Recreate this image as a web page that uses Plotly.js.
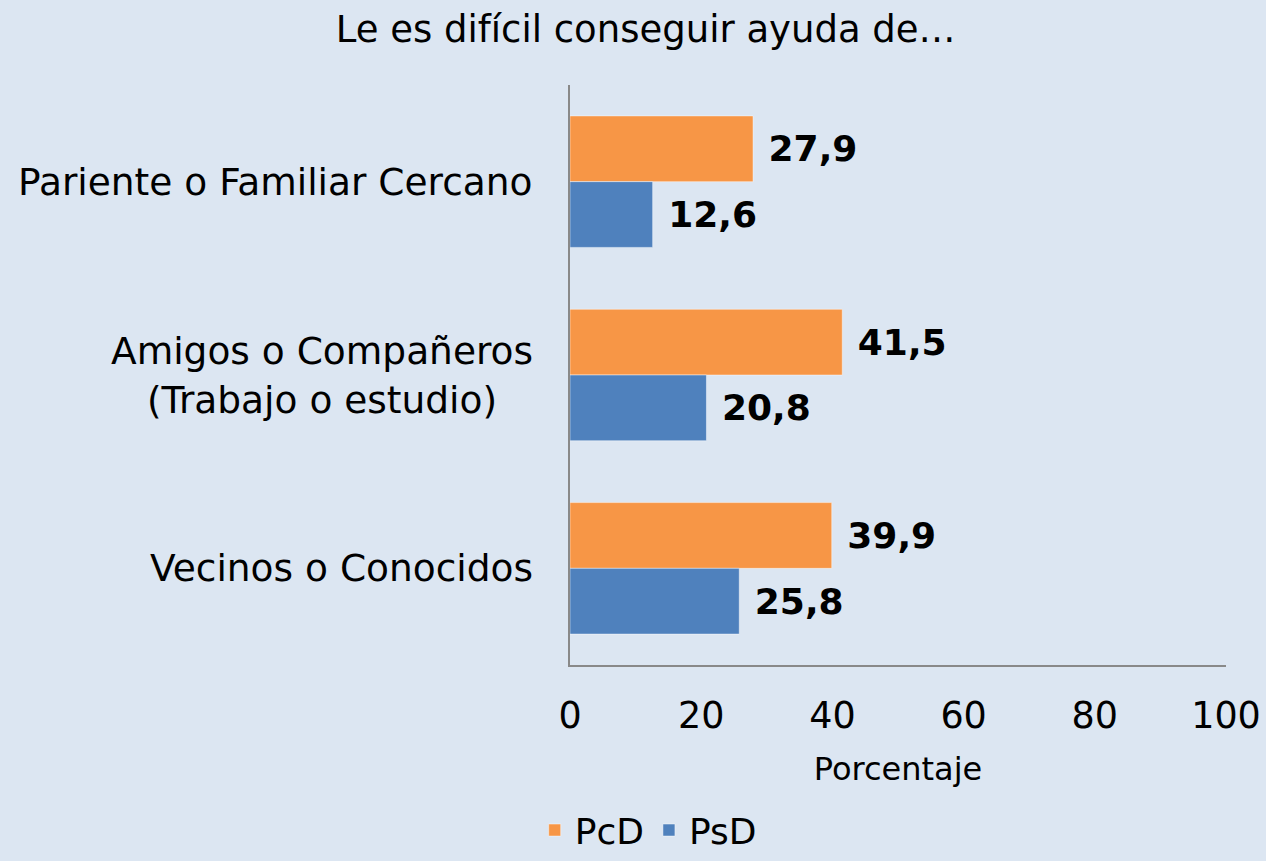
<!DOCTYPE html>
<html>
<head>
<meta charset="utf-8">
<script src="https://cdn.plot.ly/plotly-3.0.1.min.js"></script>
<style>
html,body{margin:0;padding:0;background:#DCE6F2;}
#chart{width:1266px;height:861px;}
</style>
</head>
<body>
<div id="chart"></div>
<script>
const categories = ["Pariente o Familiar Cercano", "Amigos o Compañeros<br>(Trabajo o estudio)", "Vecinos o Conocidos"];
const seriesNames = ["PcD", "PsD"];
const pcdValues = [27.9, 41.5, 39.9];
const psdValues = [12.6, 20.8, 25.8];
const xTickValues = [0, 20, 40, 60, 80, 100];
const titleText = "Le es difícil conseguir ayuda de…";
const xAxisTitle = "Porcentaje";

const FONT = "DejaVu Sans, Verdana, sans-serif";
const colors = ["#F79646", "#4F81BD"];

function barTrace(name, values, color) {
  return {
    type: "bar",
    orientation: "h",
    name: name,
    x: values,
    y: categories,
    marker: {color: color, line: {color: "rgba(255,255,255,0.45)", width: 1}},
    texttemplate: "\u00a0%{x:.1f}",
    textposition: "outside",
    constraintext: "none",
    cliponaxis: false,
    textfont: {family: FONT, size: 36, color: "#000000", weight: "bold"},
    hoverinfo: "skip"
  };
}

const data = [
  barTrace(seriesNames[0], pcdValues, colors[0]),
  barTrace(seriesNames[1], psdValues, colors[1])
];

const annotations = categories.map(c => ({
  x: 0, xref: "paper", xanchor: "right", xshift: -35,
  y: c, yref: "y", yanchor: "middle",
  text: c, showarrow: false, align: "center",
  font: {family: FONT, size: 37.5, color: "#000000"}
}));

const layout = {
  width: 1266, height: 861,
  paper_bgcolor: "#DCE6F2", plot_bgcolor: "#DCE6F2",
  separators: ",.",
  font: {family: FONT, color: "#000000"},
  margin: {l: 570, r: 40, t: 85, b: 196, pad: 0},
  barmode: "group",
  bargap: 0.32,
  bargroupgap: 0,
  showlegend: true,
  title: {
    text: titleText,
    font: {family: FONT, size: 37, color: "#000000"},
    x: 0.51, xref: "container", xanchor: "center",
    y: 0.981, yref: "container", yanchor: "top"
  },
  xaxis: {
    range: [0, 100],
    tickvals: xTickValues,
    ticktext: xTickValues.map(String),
    showgrid: false, zeroline: false,
    showline: true, linecolor: "#898989", linewidth: 2,
    ticks: "outside", ticklen: 17, tickcolor: "rgba(0,0,0,0)",
    tickfont: {family: FONT, size: 36.5, color: "#000000"},
    title: {text: xAxisTitle, font: {family: FONT, size: 32, color: "#000000"}, standoff: 22},
    fixedrange: true
  },
  yaxis: {
    autorange: "reversed",
    showgrid: false, zeroline: false,
    showline: true, linecolor: "#898989", linewidth: 2,
    showticklabels: false, ticks: "",
    fixedrange: true
  },
  legend: {
    orientation: "h",
    traceorder: "normal",
    xref: "container", x: 0.512, xanchor: "center",
    yref: "container", y: 0.001, yanchor: "bottom",
    font: {family: FONT, size: 36, color: "#000000"},
    bgcolor: "rgba(0,0,0,0)",
    itemclick: false, itemdoubleclick: false
  },
  annotations: annotations
};

Plotly.newPlot("chart", data, layout, {displayModeBar: false, staticPlot: true});
</script>
</body>
</html>
